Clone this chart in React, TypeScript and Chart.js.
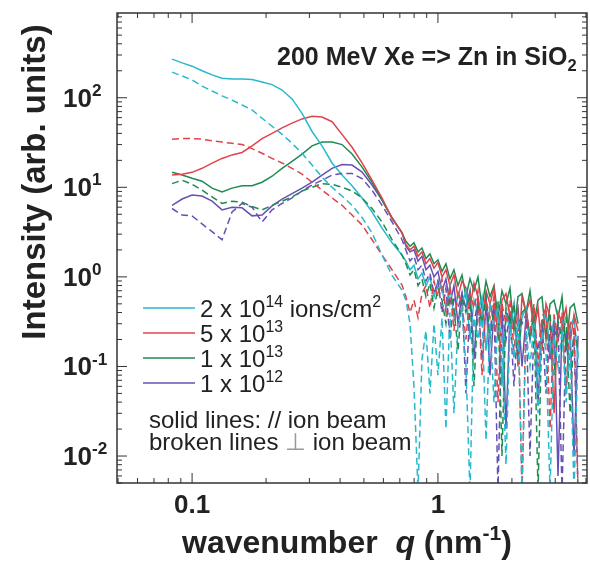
import React, { useEffect, useRef } from "react";
import { Chart, registerables } from "chart.js";

Chart.register(...registerables);

// wavenumber grid q (nm^-1)
const qValues = [
  0.0829, 0.0911, 0.1, 0.1098, 0.1206, 0.1324, 0.1454, 0.1597, 0.1754, 0.1926, 0.2115, 0.2323,
  0.2551, 0.2801, 0.3076, 0.3378, 0.371, 0.4074, 0.4474, 0.4913, 0.5395, 0.5925, 0.6506, 0.7145,
  0.741, 0.77, 0.799, 0.83, 0.861, 0.894, 0.928, 0.964, 1.0, 1.039, 1.078, 1.119, 1.162, 1.207,
  1.253, 1.3, 1.35, 1.402, 1.455, 1.511, 1.569, 1.628, 1.691, 1.755, 1.822, 1.892, 1.964, 2.039,
  2.117, 2.198, 2.282, 2.369, 2.46, 2.554, 2.651, 2.752, 2.858, 2.967, 3.08, 3.198, 3.32, 3.447,
  3.578, 3.715,
];

// solid lines: // ion beam
const cyanSolid = [
  270, 245, 225, 200, 180, 165, 162, 162, 160, 150, 140, 122, 97, 67, 42, 29, 18.7, 13.7, 10.4, 7.6, 5.3, 3.5, 2.4, 1.75,
  1.5, 1.2, 1.35, 0.95, 1.1, 0.8, 1.0, 0.6, 0.9, 0.75, 0.45, 0.8, 0.35, 0.65, 0.5, 0.7, 0.2, 0.55, 0.4, 0.6,
  0.15, 0.5, 0.3, 0.45, 0.06, 0.4, 0.25, 0.5, 0.12, 0.35, 0.45, 0.2, 0.38, 0.08, 0.3, 0.4, 0.15, 0.35, 0.2, 0.3,
  0.05, 0.28, 0.35, 0.12,
];
const redSolid = [
  13.7, 14, 14.7, 16.3, 18.6, 21, 23, 24.5, 29, 35, 40, 46, 52, 58, 62, 61, 54, 39, 28, 18.7, 12, 7.6, 4.5, 3.1,
  2.3, 2.0, 2.2, 1.7, 1.9, 1.4, 1.6, 1.25, 1.45, 1.0, 1.2, 0.8, 1.05, 0.6, 0.9, 0.75, 0.45, 0.85, 0.6, 0.3,
  0.7, 0.5, 0.75, 0.2, 0.55, 0.65, 0.35, 0.5, 0.1, 0.6, 0.4, 0.55, 0.25, 0.45, 0.15, 0.5, 0.35, 0.03, 0.4, 0.3,
  0.45, 0.18, 0.38, 0.25,
];
const greenSolid = [
  14.7, 13.7, 12.6, 11.7, 9.8, 8.9, 9.8, 10.4, 10.4, 11.4, 13.3, 16.3, 19.5, 23.5, 29, 32, 32, 30, 23.5, 16.8, 11.4, 7.2, 4.5, 3.1,
  2.5, 2.2, 2.4, 1.9, 2.1, 1.6, 1.8, 1.4, 1.55, 1.15, 1.4, 0.95, 1.2, 0.8, 1.05, 0.6, 0.95, 0.7, 1.0, 0.45,
  0.9, 0.6, 0.8, 0.35, 0.7, 0.5, 0.75, 0.25, 0.6, 0.65, 0.4, 0.7, 0.3, 0.55, 0.6, 0.2, 0.5, 0.55, 0.35, 0.6,
  0.15, 0.45, 0.5, 0.3,
];
const purpleSolid = [
  6.3, 7.4, 8.2, 8.0, 7.0, 5.6, 6.0, 5.9, 4.8, 4.9, 6.2, 7.4, 8.5, 9.8, 11.4, 13.7, 16.3, 18, 17.7, 14.8, 10.6, 7.2, 4.6, 3.1,
  2.2, 1.9, 2.0, 1.5, 1.7, 1.2, 1.35, 1.0, 1.15, 0.7, 0.95, 0.5, 0.8, 0.3, 0.65, 0.45, 0.7, 0.12, 0.55, 0.35,
  0.6, 0.08, 0.45, 0.25, 0.5, 0.02, 0.4, 0.3, 0.45, 0.1, 0.35, 0.2, 0.42, 0.04, 0.3, 0.38, 0.12, 0.33, 0.006, 0.3,
  0.2, 0.28, 0.01, 0.22,
];

// broken lines: perpendicular to ion beam
const cyanDashed = [
  193, 175, 158, 135, 119, 105, 94, 83, 73, 59, 48, 39, 31, 24, 17.7, 13, 10, 8, 6.3, 4.6, 3.1, 1.75, 1.04, 0.71,
  0.55, 0.3, 0.06, 0.004, 0.12, 0.25, 0.05, 0.3, 0.08, 0.35, 0.02, 0.4, 0.03, 0.3, 0.45, 0.1, 0.004, 0.35, 0.2, 0.4,
  0.015, 0.3, 0.04, 0.35, 0.2, 0.008, 0.3, 0.12, 0.35, 0.004, 0.25, 0.1, 0.3, 0.03, 0.25, 0.15, 0.004, 0.22, 0.1, 0.25,
  0.04, 0.2, 0.004, 0.15,
];
const redDashed = [
  34.5, 35, 35, 34.5, 33, 32, 31, 30, 27, 24, 21, 18.7, 16.3, 14, 11.4, 9.3, 7.6, 6.3, 4.9, 3.8, 2.6, 1.75, 1.2, 0.81,
  0.6, 0.4, 0.55, 0.35, 0.65, 0.8, 0.45, 0.9, 0.6, 0.95, 0.4, 0.8, 0.25, 0.7, 0.5, 0.2, 0.65, 0.45, 0.7, 0.08,
  0.55, 0.35, 0.6, 0.04, 0.5, 0.3, 0.55, 0.15, 0.45, 0.004, 0.4, 0.25, 0.5, 0.1, 0.35, 0.45, 0.02, 0.38, 0.2, 0.4,
  0.06, 0.3, 0.35, 0.004,
];
const greenDashed = [
  11, 12, 10.8, 9.3, 7.8, 6.6, 7, 6.8, 6.1, 5.6, 6.3, 7.0, 7.8, 9.1, 10, 11, 10.8, 10, 9.1, 7.6, 5.8, 4.1, 2.6, 1.75,
  1.4, 1.05, 1.2, 0.8, 0.95, 0.6, 0.85, 0.45, 0.75, 0.55, 0.3, 0.7, 0.45, 0.15, 0.6, 0.4, 0.65, 0.06, 0.5, 0.3,
  0.6, 0.2, 0.45, 0.55, 0.01, 0.45, 0.3, 0.5, 0.12, 0.4, 0.45, 0.2, 0.38, 0.004, 0.35, 0.25, 0.4, 0.08, 0.32, 0.2,
  0.35, 0.03, 0.28, 0.15,
];
const purpleDashed = [
  5.8, 4.9, 4.8, 3.9, 3.2, 2.6, 5.3, 6.6, 6.0, 4.1, 5.6, 6.6, 7.6, 9.1, 10.6, 12, 13.7, 14.3, 14.3, 12.5, 9.3, 6.3, 4.1, 2.6,
  2.0, 1.5, 1.7, 1.2, 1.35, 0.9, 1.1, 0.65, 0.9, 0.4, 0.75, 0.2, 0.6, 0.45, 0.65, 0.05, 0.5, 0.3, 0.55, 0.12,
  0.45, 0.25, 0.5, 0.004, 0.42, 0.2, 0.4, 0.06, 0.35, 0.3, 0.38, 0.01, 0.3, 0.15, 0.33, 0.05, 0.28, 0.2, 0.3, 0.004,
  0.25, 0.1, 0.22, 0.004,
];

// legend
const legendMantissa = ["2 x 10", "5 x 10", "1 x 10", "1 x 10"];
const legendExponent = ["14", "13", "13", "12"];
const yTickExponents = [2, 1, 0, -1, -2];
const xTickValues = [0.1, 1];
const xTickLabels = ["0.1", "1"];

const COLORS = ["#27b9cc", "#e0444b", "#1f8a52", "#6750b4"];
const FONT = '"Liberation Sans", Arial, Helvetica, sans-serif';
const INK = "#222222";

type Seg = { t: string; m?: "sup" | "sub"; italic?: boolean; color?: string };

function drawRich(ctx: CanvasRenderingContext2D, x: number, y: number, segs: Seg[], size: number, weight: string) {
  let cx = x;
  for (const s of segs) {
    const sz = s.m ? size * 0.66 : size;
    const dy = s.m === "sup" ? -size * 0.42 : s.m === "sub" ? size * 0.22 : 0;
    ctx.font = `${s.italic ? "italic " : ""}${weight} ${sz}px ${FONT}`;
    ctx.fillStyle = s.color || INK;
    ctx.textAlign = "left";
    ctx.textBaseline = "alphabetic";
    ctx.fillText(s.t, cx, y + dy);
    cx += ctx.measureText(s.t).width;
  }
  return cx - x;
}

const decorPlugin = {
  id: "decor",
  afterDraw(chart: any) {
    const ctx: CanvasRenderingContext2D = chart.ctx;
    const { left, right, top, bottom } = chart.chartArea;
    const xs = chart.scales.x;
    const ys = chart.scales.y;
    ctx.save();
    ctx.setLineDash([]);
    // frame
    ctx.strokeStyle = "#333";
    ctx.lineWidth = 1.5;
    ctx.strokeRect(left, top, right - left, bottom - top);
    // ticks
    ctx.lineWidth = 1;
    const xMin = xs.min, xMax = xs.max, yMin = ys.min, yMax = ys.max;
    for (let e = -2; e <= 1; e++) {
      for (let m = 1; m <= 9; m++) {
        const v = m * Math.pow(10, e);
        if (v < xMin || v > xMax) continue;
        const px = xs.getPixelForValue(v);
        const len = m === 1 ? 10 : 5;
        ctx.beginPath();
        ctx.moveTo(px, bottom); ctx.lineTo(px, bottom - len);
        ctx.moveTo(px, top); ctx.lineTo(px, top + len);
        ctx.stroke();
      }
    }
    for (let e = -3; e <= 2; e++) {
      for (let m = 1; m <= 9; m++) {
        const v = m * Math.pow(10, e);
        if (v < yMin || v > yMax) continue;
        const py = ys.getPixelForValue(v);
        const len = m === 1 ? 10 : 5;
        ctx.beginPath();
        ctx.moveTo(left, py); ctx.lineTo(left + len, py);
        ctx.moveTo(right, py); ctx.lineTo(right - len, py);
        ctx.stroke();
      }
    }
    // y tick labels
    for (const e of yTickExponents) {
      const py = ys.getPixelForValue(Math.pow(10, e));
      drawRich(ctx, 63, py + 9, [{ t: "10" }, { t: String(e), m: "sup" }], 26, "bold");
    }
    // x tick labels
    ctx.font = `bold 26px ${FONT}`;
    ctx.fillStyle = INK;
    ctx.textAlign = "center";
    xTickValues.forEach((v, i) => {
      ctx.fillText(xTickLabels[i], xs.getPixelForValue(v), 513);
    });
    // axis titles
    ctx.save();
    ctx.translate(45, 182);
    ctx.rotate(-Math.PI / 2);
    ctx.font = `bold 33px ${FONT}`;
    ctx.textAlign = "center";
    ctx.fillText("Intensity (arb. units)", 0, 0);
    ctx.restore();
    drawRich(ctx, 182, 553, [{ t: "wavenumber  " }, { t: "q", italic: true }, { t: " (nm" }, { t: "-1", m: "sup" }, { t: ")" }], 32, "bold");
    // chart title
    drawRich(ctx, 277, 65, [{ t: "200 MeV Xe => Zn in SiO" }, { t: "2", m: "sub" }], 25, "bold");
    // legend
    const rows = [308, 333, 358, 383];
    rows.forEach((ry, i) => {
      ctx.strokeStyle = COLORS[i];
      ctx.lineWidth = 1.5;
      ctx.beginPath();
      ctx.moveTo(143, ry); ctx.lineTo(195, ry);
      ctx.stroke();
      const segs: Seg[] = [{ t: legendMantissa[i] }, { t: legendExponent[i], m: "sup" }];
      if (i === 0) { segs.push({ t: " ions/cm" }); segs.push({ t: "2", m: "sup" }); }
      drawRich(ctx, 200, ry + 9, segs, 24, "normal");
    });
    drawRich(ctx, 149, 428, [{ t: "solid lines: // ion beam" }], 24, "normal");
    drawRich(ctx, 149, 450, [{ t: "broken lines " }, { t: "\u22A5", color: "#999" }, { t: " ion beam" }], 24, "normal");
    ctx.restore();
  },
};

export default function App() {
  const ref = useRef<HTMLCanvasElement | null>(null);
  useEffect(() => {
    if (!ref.current) return;
    const mk = (arr: number[]) => qValues.map((q, i) => ({ x: q, y: arr[i] }));
    const solids = [cyanSolid, redSolid, greenSolid, purpleSolid];
    const dashes = [cyanDashed, redDashed, greenDashed, purpleDashed];
    const datasets: any[] = [];
    dashes.forEach((d, i) =>
      datasets.push({ data: mk(d), borderColor: COLORS[i], borderWidth: 1.5, borderDash: [7, 4], pointRadius: 0, fill: false, tension: 0 })
    );
    solids.forEach((d, i) =>
      datasets.push({ data: mk(d), borderColor: COLORS[i], borderWidth: 1.5, pointRadius: 0, fill: false, tension: 0 })
    );
    const chart = new Chart(ref.current, {
      type: "line",
      data: { datasets },
      options: {
        animation: false,
        responsive: false,
        devicePixelRatio: 1,
        layout: { padding: { left: 117, top: 13, right: 3, bottom: 79 } },
        plugins: { legend: { display: false }, tooltip: { enabled: false }, title: { display: false } },
        scales: {
          x: { type: "logarithmic", display: false, min: 0.0495, max: 4.04 },
          y: { type: "logarithmic", display: false, min: 0.005, max: 883 },
        },
      },
      plugins: [decorPlugin],
    });
    return () => chart.destroy();
  }, []);
  return (
    <div style={{ position: "fixed", left: 0, top: 0, width: 590, height: 562, background: "#fff" }}>
      <canvas ref={ref} width={590} height={562} style={{ width: 590, height: 562, display: "block" }} />
    </div>
  );
}
